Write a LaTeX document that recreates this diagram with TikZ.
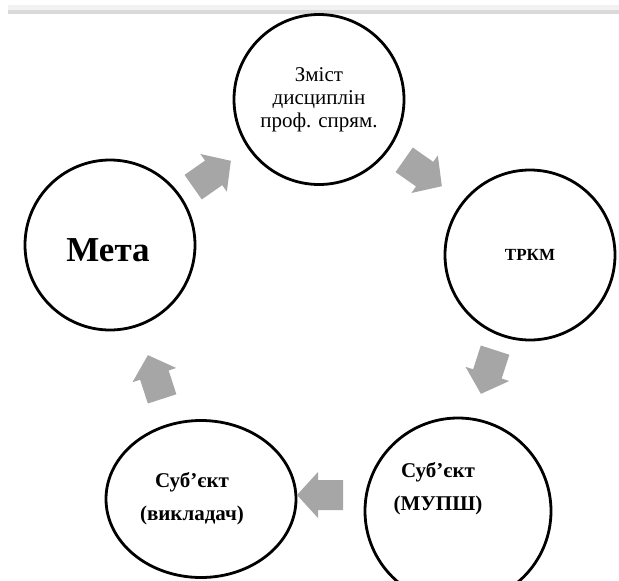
\documentclass[tikz,border=0pt]{standalone}
\usepackage{fontspec}
\setmainfont{Liberation Serif}
\usetikzlibrary{shapes.geometric}
\definecolor{arrowgray}{HTML}{A6A6A6}
\begin{document}
\begin{tikzpicture}[x=1pt,y=-1pt,
  ring/.style={draw=black, line width=2.8pt, circle, minimum size=170pt, inner sep=0pt, align=center, fill=white},
  oval/.style={draw=black, line width=2.8pt, ellipse, minimum width=190pt, minimum height=157pt, inner sep=0pt, align=center, fill=white},
  cyclearrow/.pic={\fill[arrowgray] (-23,-15) -- (2,-15) -- (2,-23) -- (23,0) -- (2,23) -- (2,15) -- (-23,15) -- cycle;}]
\useasboundingbox (0,0) rectangle (619,581);
\clip (0,0) rectangle (619,581);
\fill[gray!10] (8,5) rectangle (619,10);
\fill[gray!30] (8,10) rectangle (619,14);
\node[ring, font=\fontsize{21}{23}\selectfont] (zmist) at (319,99.5) {Зміст\\дисциплін\\проф. спрям.};
\node[ring, font=\fontsize{17}{20}\selectfont\bfseries] (trkm) at (530,255) {ТРКМ};
\node[ring, minimum size=186pt,
  label={[xshift=-20pt, yshift=22pt, align=center, font=\fontsize{21}{33}\selectfont\bfseries]center:Суб’єкт\\(МУПШ)}] (mupsh) at (458,511) {};
\node[oval, label={[xshift=-9pt, yshift=0pt, align=center, font=\fontsize{21}{33}\selectfont\bfseries]center:Суб’єкт\\(викладач)}] (vykl) at (201,499) {};
\node[ring, label={[xshift=-2pt, yshift=-5pt, font=\fontsize{35}{40}\selectfont\bfseries]center:Мета}] (meta) at (110,245) {};
\pic[rotate=35] at (212,174) {cyclearrow};
\pic[rotate=-35] at (423,173) {cyclearrow};
\pic[rotate=-108] at (488,372) {cyclearrow};
\pic[rotate=180] at (320,495) {cyclearrow};
\pic[rotate=108] at (155,377) {cyclearrow};
\end{tikzpicture}
\end{document}
